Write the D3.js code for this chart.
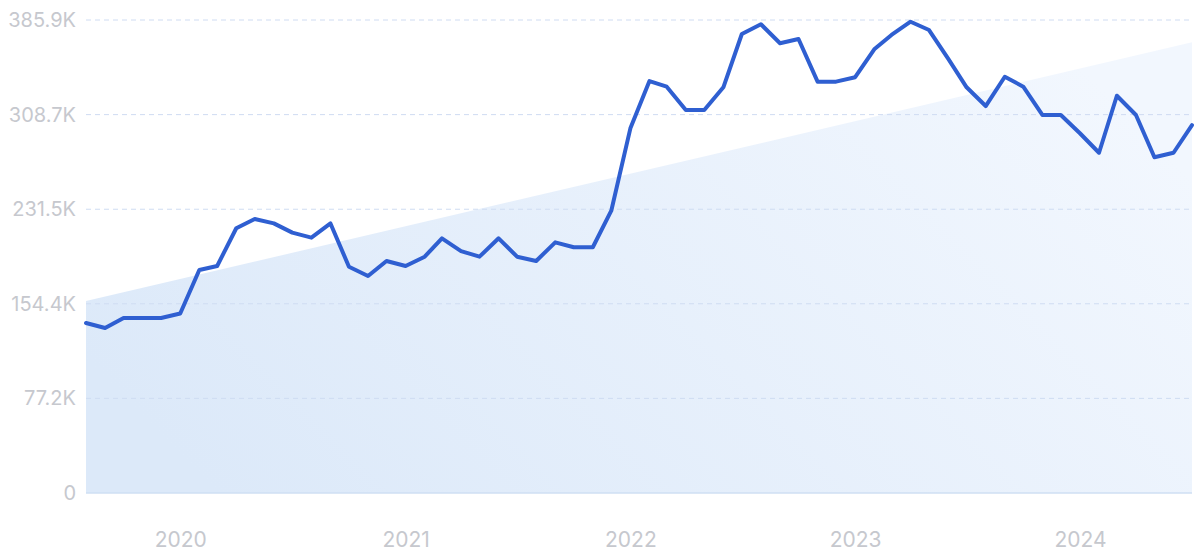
<!DOCTYPE html>
<html>
<head>
<meta charset="utf-8">
<script src="https://cdn.jsdelivr.net/npm/d3@7"></script>
<style>
html,body{margin:0;padding:0;background:#fff;}
svg{display:block;}
</style>
</head>
<body>
<svg id="chart" width="1200" height="555"></svg>
<script>
// Monthly values, Aug 2019 .. Jul 2024
const startMonth = "2019-08";
const values = [
  138.7, 134.6, 142.8, 142.8, 142.8, 146.4, 181.9, 185.2, 216.0, 223.5,
  220.0, 212.4, 208.3, 219.9, 184.6, 177.0, 189.3, 185.2, 192.8, 207.8,
  197.4, 192.8, 207.8, 192.8, 189.3, 204.5, 200.5, 200.5, 230.3, 297.5,
  336.1, 331.5, 312.5, 312.5, 331.0, 374.5, 382.4, 366.9, 370.4, 335.6,
  335.6, 339.2, 362.0, 373.7, 384.5, 377.7, 354.3, 331.0, 315.7, 339.6,
  331.5, 308.4, 308.4, 293.5, 277.6, 324.1, 308.4, 273.9, 277.6, 300.2
];
const trendValues = [156.6, 367.7];
const yTicks = [0, 77.2, 154.4, 231.5, 308.7, 385.9];
const yTickLabels = ["0", "77.2K", "154.4K", "231.5K", "308.7K", "385.9K"];
const xTickLabels = ["2020", "2021", "2022", "2023", "2024"];

const parse = d3.timeParse("%Y-%m");
const t0 = parse(startMonth);
const dates = values.map((v, i) => d3.timeMonth.offset(t0, i));
const data = values.map((v, i) => ({date: dates[i], value: v}));

const svg = d3.select("#chart");
const margin = {left: 86, right: 8, top: 20, bottom: 62};
const W = 1200, H = 555;

const x = d3.scaleTime()
  .domain([dates[0], dates[dates.length - 1]])
  .range([margin.left, W - margin.right]);
const y = d3.scaleLinear()
  .domain([0, 385.9])
  .range([H - margin.bottom, margin.top]);

// gradient
const defs = svg.append("defs");
const grad = defs.append("linearGradient")
  .attr("id", "fillGrad")
  .attr("x1", "0%").attr("y1", "70%")
  .attr("x2", "100%").attr("y2", "30%");
grad.append("stop").attr("offset", "0%").attr("stop-color", "#dce9f9");
grad.append("stop").attr("offset", "100%").attr("stop-color", "#f2f7fe");

// trend area
const trendData = [
  {date: dates[0], value: trendValues[0]},
  {date: dates[dates.length - 1], value: trendValues[1]}
];
svg.append("path")
  .datum(trendData)
  .attr("fill", "url(#fillGrad)")
  .attr("d", d3.area().x(d => x(d.date)).y0(y(0)).y1(d => y(d.value)));

// grid lines
svg.append("g")
  .selectAll("line")
  .data(yTicks.slice(1))
  .join("line")
  .attr("x1", margin.left).attr("x2", W - margin.right)
  .attr("y1", d => y(d)).attr("y2", d => y(d))
  .attr("stroke", "#cfdcf2")
  .attr("stroke-width", 1)
  .attr("stroke-dasharray", "5,4");

// baseline
svg.append("line")
  .attr("x1", margin.left).attr("x2", W - margin.right)
  .attr("y1", y(0)).attr("y2", y(0))
  .attr("stroke", "#cfdff3").attr("stroke-width", 1.5);

// y axis labels
const yAxis = d3.axisLeft(y)
  .tickValues(yTicks)
  .tickFormat((d, i) => yTickLabels[i])
  .tickSize(0)
  .tickPadding(10);
const gy = svg.append("g")
  .attr("transform", `translate(${margin.left},0)`)
  .call(yAxis);
gy.select(".domain").remove();
gy.selectAll("text")
  .attr("fill", "#c6c8ce")
  .style("font-family", "Inter, 'Noto Sans', sans-serif")
  .style("font-size", "20px");

// x axis labels
const xTickDates = xTickLabels.map(s => parse(s + "-01"));
const xAxis = d3.axisBottom(x)
  .tickValues(xTickDates)
  .tickFormat((d, i) => xTickLabels[i])
  .tickSize(0)
  .tickPadding(39);
const gx = svg.append("g")
  .attr("transform", `translate(0,${y(0)})`)
  .call(xAxis);
gx.select(".domain").remove();
gx.selectAll("text")
  .attr("fill", "#c6c8ce")
  .style("font-family", "Inter, 'Noto Sans', sans-serif")
  .style("font-size", "21px");

// line
svg.append("path")
  .datum(data)
  .attr("fill", "none")
  .attr("stroke", "#2f5fd1")
  .attr("stroke-width", 4)
  .attr("stroke-linejoin", "round")
  .attr("stroke-linecap", "round")
  .attr("d", d3.line().x(d => x(d.date)).y(d => y(d.value)));
</script>
</body>
</html>
